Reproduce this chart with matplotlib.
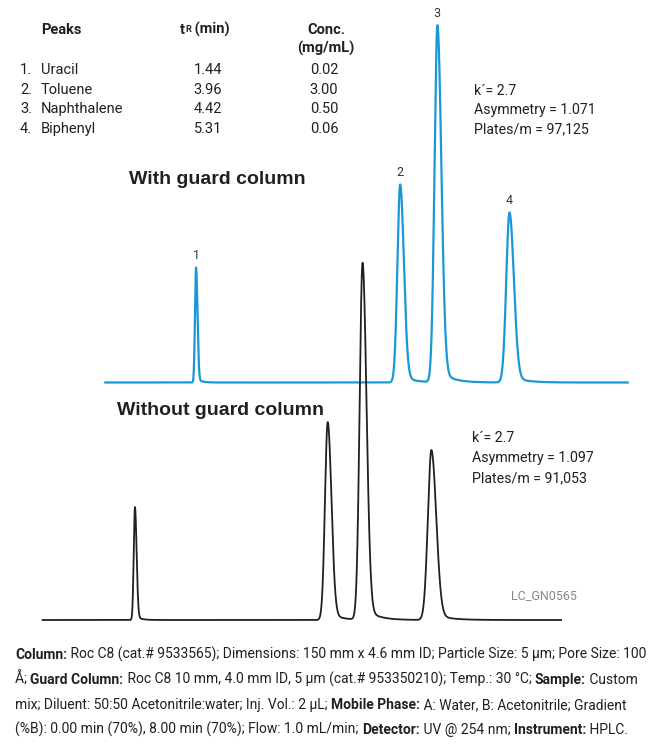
import numpy as np
import matplotlib
matplotlib.use("Agg")
from matplotlib import pyplot as plt
from matplotlib import font_manager as fm

# fonts
_names = {f.name for f in fm.fontManager.ttflist}
NARROW = 'Liberation Sans Narrow' if 'Liberation Sans Narrow' in _names else 'Roboto'
BOLDF = 'Liberation Sans'
TXT = '#231f20'
BLUE = '#1a98d5'

# Peak table
peak_no = ['1.', '2.', '3.', '4.']
peak_names = ['Uracil', 'Toluene', 'Naphthalene', 'Biphenyl']
tr_min = ['1.44', '3.96', '4.42', '5.31']
conc = ['0.02', '3.00', '0.50', '0.06']

# With guard column (blue trace): retention time (min), height, sigma (min)
guard_t = [1.44, 3.96, 4.42, 5.31]
guard_h = [115, 198, 357, 170]
guard_s = [0.013, 0.034, 0.036, 0.040]
guard_range = (0.32, 6.77)
guard_stats = ["k\u00b4= 2.7", "Asymmetry = 1.071", "Plates/m = 97,125"]

# Without guard column (black trace)
noguard_t = [1.36, 3.74, 4.17, 5.02]
noguard_h = [113, 198, 357, 170]
noguard_s = [0.015, 0.034, 0.036, 0.044]
noguard_range = (0.22, 6.62)
noguard_stats = ["k\u00b4= 2.7", "Asymmetry = 1.097", "Plates/m = 91,053"]

footer = [
    [("Column:", True), (" Roc C8 (cat.# 9533565); Dimensions: 150 mm x 4.6 mm ID; Particle Size: 5 \u00b5m; Pore Size: 100", False)],
    [("\u00c5; ", False), ("Guard Column:", True), (" Roc C8 10 mm, 4.0 mm ID, 5 \u00b5m (cat.# 953350210); Temp.: 30 \u00b0C; ", False),
     ("Sample:", True), (" Custom", False)],
    [("mix; Diluent: 50:50 Acetonitrile:water; Inj. Vol.: 2 \u00b5L; ", False), ("Mobile Phase:", True),
     (" A: Water, B: Acetonitrile; Gradient", False)],
    [("(%B): 0.00 min (70%), 8.00 min (70%); Flow: 1.0 mL/min; ", False), ("Detector:", True),
     (" UV @ 254 nm; ", False), ("Instrument:", True), (" HPLC.", False)],
]


def trace(times, heights, sigmas, rng):
    t = np.linspace(rng[0], rng[1], 6000)
    y = np.zeros_like(t)
    a = 0.04
    for tr, h, s in zip(times, heights, sigmas):
        d = t - tr
        sig = np.where(d < 0, s, s * 1.35)
        g = np.exp(-0.5 * (d / sig) ** 2)
        tail = np.exp(-np.clip(d, 0, None) / (s * 4))
        y += h * np.where(d < 0, g, (1 - a) * g + a * tail)
    return t, y


W, H = 656, 747
fig = plt.figure(figsize=(W / 100, H / 100), dpi=100)

# px/min and offsets of the two traces
PXM = 81.0
ax_g = fig.add_axes([0, 1 - 400 / H, 1, 400 / H])
ax_g.set_xlim(-79.4 / PXM, (W - 79.4) / PXM)
ax_g.set_ylim(-17.5, 382.5)
ax_g.axis('off')
tg, yg = trace(guard_t, guard_h, guard_s, guard_range)
ax_g.plot(tg, yg, color=BLUE, lw=1.6, solid_joinstyle='round')

ax_n = fig.add_axes([0, 1 - 640 / H, 1, 400 / H])
ax_n.set_xlim(-24.8 / PXM, (W - 24.8) / PXM)
ax_n.set_ylim(-20, 380)
ax_n.axis('off')
ax_n.patch.set_alpha(0)
tn, yn = trace(noguard_t, noguard_h, noguard_s, noguard_range)
ax_n.plot(tn, yn, color=TXT, lw=1.3, solid_joinstyle='round')

# peak numbers on blue trace
for i, (tr, h) in enumerate(zip(guard_t, guard_h)):
    ax_g.annotate(str(i + 1), xy=(tr, h), xytext=(0, 4), textcoords='offset points',
                  ha='center', va='bottom', fontsize=9, family=NARROW, color='#333333')

# text layer in pixel coords
ax = fig.add_axes([0, 0, 1, 1])
ax.set_xlim(0, W)
ax.set_ylim(H, 0)
ax.axis('off')
ax.patch.set_alpha(0)


def rich(x, y, parts, size, family):
    prev = None
    for s, b in parts:
        kw = dict(fontsize=size, family=family, color=TXT, fontweight='bold' if b else 'normal')
        if prev is None:
            prev = ax.text(x, y, s, ha='left', va='baseline', **kw)
        else:
            prev = ax.annotate(s, xy=(1, 0), xycoords=prev, ha='left', va='bottom', **kw)
    return prev


# table header
hs = 10.5
ax.text(41, 34, "Peaks", fontsize=hs, family=NARROW, fontweight='bold', color=TXT, va='baseline')
t0 = ax.text(180, 34, "t", fontsize=hs, family=NARROW, fontweight='bold', color=TXT, va='baseline')
t1 = ax.annotate("R", xy=(1, 0), xycoords=t0, fontsize=6.5, family=NARROW, fontweight='bold',
                 color=TXT, va='bottom', xytext=(0, 2.2), textcoords='offset points')
ax.annotate(" (min)", xy=(1, 0), xycoords=t1, fontsize=hs, family=NARROW, fontweight='bold',
            color=TXT, va='bottom', xytext=(0, -2.2), textcoords='offset points')
ax.text(326, 34, "Conc.", fontsize=hs, family=NARROW, fontweight='bold', color=TXT, va='baseline', ha='center')
ax.text(326, 53, "(mg/mL)", fontsize=hs, family=NARROW, fontweight='bold', color=TXT, va='baseline', ha='center')

for i in range(4):
    yy = 74 + i * 19.7
    ax.text(20, yy, peak_no[i], fontsize=hs, family=NARROW, color=TXT, va='baseline')
    ax.text(41, yy, peak_names[i], fontsize=hs, family=NARROW, color=TXT, va='baseline')
    ax.text(208, yy, tr_min[i], fontsize=hs, family=NARROW, color=TXT, va='baseline', ha='center')
    ax.text(324, yy, conc[i], fontsize=hs, family=NARROW, color=TXT, va='baseline', ha='center')

# stats blocks
for i, s in enumerate(guard_stats):
    ax.text(474, 95 + i * 19.2, s, fontsize=10.2, family=NARROW, color=TXT, va='baseline')
for i, s in enumerate(noguard_stats):
    ax.text(472, 442 + i * 20, s, fontsize=10.2, family=NARROW, color=TXT, va='baseline')

ax.text(129, 184, "With guard column", fontsize=14, family=BOLDF, fontweight='bold', color=TXT, va='baseline')
ax.text(117, 415, "Without guard column", fontsize=14, family=BOLDF, fontweight='bold', color=TXT, va='baseline')
ax.text(511, 599, "LC_GN0565", fontsize=9, family=NARROW, color='#888888', va='baseline')

for i, parts in enumerate(footer):
    rich(15, 659 + i * 25, parts, 10.0, NARROW)

fig.savefig("out.png", dpi=100)
